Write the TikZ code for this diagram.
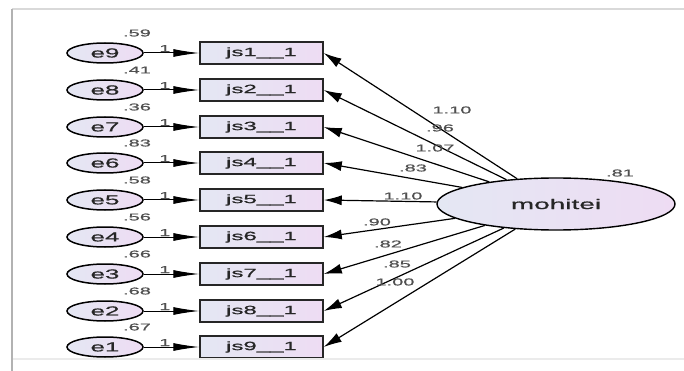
\documentclass[tikz,border=0pt]{standalone}
\usepackage{fontspec}
\usepackage{tikz}
\usetikzlibrary{arrows.meta,shapes.geometric}
\newfontfamily\amosfont[FakeStretch=2.0,FakeBold=0.8]{Liberation Sans}
\definecolor{fillleft}{HTML}{E4E7F3}
\definecolor{fillright}{HTML}{EEDCF3}
\definecolor{labelgray}{HTML}{505050}
\tikzset{
  errvar/.style={ellipse,draw=black,line width=1.5pt,minimum width=76pt,minimum height=20pt,inner sep=0pt,
    left color=fillleft,right color=fillright,text=black!85,font=\amosfont\fontsize{13}{14}\selectfont},
  itembox/.style={rectangle,draw=black!85,line width=1.5pt,minimum width=123pt,minimum height=22pt,inner sep=0pt,
    left color=fillleft,right color=fillright,text=black!85,font=\amosfont\fontsize{12}{13}\selectfont},
  latentvar/.style={ellipse,draw=black,line width=1.4pt,minimum width=238pt,minimum height=52pt,inner sep=0pt,
    left color=fillleft,right color=fillright,text=black!85,font=\amosfont\fontsize{14}{15}\selectfont},
  est/.style={text=labelgray,inner sep=0pt,font=\amosfont\fontsize{10}{11}\selectfont},
  errarrow/.style={-{Latex[length=26pt,width=8pt]},line width=1pt},
  loadarrow/.style={-{Latex[length=18pt,width=10pt]},line width=1.2pt}
}
\begin{document}
\begin{tikzpicture}[x=1pt,y=-1pt]
\useasboundingbox (0,0) rectangle (684,371);
\fill[white] (0,0) rectangle (684,371);
\begin{scope}
\clip (13,10) rectangle (684,358);
% error terms and items
\node[errvar] (e9) at (105,53) {e9};
\node[errvar] (e8) at (105,90) {e8};
\node[errvar] (e7) at (105,127) {e7};
\node[errvar] (e6) at (105,163) {e6};
\node[errvar] (e5) at (105,200) {e5};
\node[errvar] (e4) at (105,237) {e4};
\node[errvar] (e3) at (105,274) {e3};
\node[errvar] (e2) at (105,311) {e2};
\node[errvar] (e1) at (105,347) {e1};
\node[itembox] (js1) at (261.5,53) {js1\_\_1};
\node[itembox] (js2) at (261.5,90) {js2\_\_1};
\node[itembox] (js3) at (261.5,127) {js3\_\_1};
\node[itembox] (js4) at (261.5,163) {js4\_\_1};
\node[itembox] (js5) at (261.5,200) {js5\_\_1};
\node[itembox] (js6) at (261.5,237) {js6\_\_1};
\node[itembox] (js7) at (261.5,274) {js7\_\_1};
\node[itembox] (js8) at (261.5,311) {js8\_\_1};
\node[itembox] (js9) at (261.5,347) {js9\_\_1};
\draw[errarrow] (e9) -- (js1) node[est,pos=0.38,above=0.5pt] {1};
\draw[errarrow] (e8) -- (js2) node[est,pos=0.38,above=0.5pt] {1};
\draw[errarrow] (e7) -- (js3) node[est,pos=0.38,above=0.5pt] {1};
\draw[errarrow] (e6) -- (js4) node[est,pos=0.38,above=0.5pt] {1};
\draw[errarrow] (e5) -- (js5) node[est,pos=0.38,above=0.5pt] {1};
\draw[errarrow] (e4) -- (js6) node[est,pos=0.38,above=0.5pt] {1};
\draw[errarrow] (e3) -- (js7) node[est,pos=0.38,above=0.5pt] {1};
\draw[errarrow] (e2) -- (js8) node[est,pos=0.38,above=0.5pt] {1};
\draw[errarrow] (e1) -- (js9) node[est,pos=0.38,above=0.5pt] {1};
% variances
\node[est] (v9) at (137,33) {.59};
\node[est] (v8) at (137,70) {.41};
\node[est] (v7) at (137,107) {.36};
\node[est] (v6) at (137,143) {.83};
\node[est] (v5) at (137,180) {.58};
\node[est] (v4) at (137,217) {.56};
\node[est] (v3) at (137,254) {.66};
\node[est] (v2) at (137,291) {.68};
\node[est] (v1) at (137,327) {.67};
% latent factor and loadings
\node[latentvar] (mohitei) at (556,204) {mohitei};
\node[est] (vm) at (620,173) {.81};
\draw[loadarrow] (mohitei) -- (js1.east);
\draw[loadarrow] (mohitei) -- (js2.east);
\draw[loadarrow] (mohitei) -- (js3.east);
\draw[loadarrow] (mohitei) -- (js4.east);
\draw[loadarrow] (mohitei) -- (js5.east);
\draw[loadarrow] (mohitei) -- (js6.east);
\draw[loadarrow] (mohitei) -- (js7.east);
\draw[loadarrow] (mohitei) -- (js8.east);
\draw[loadarrow] (mohitei) -- (js9.east);
\node[est] (l1) at (452,110) {1.10};
\node[est] (l2) at (440,128) {.96};
\node[est] (l3) at (435,148) {1.07};
\node[est] (l4) at (413,168) {.83};
\node[est] (l5) at (403,196) {1.10};
\node[est] (l6) at (377,222) {.90};
\node[est] (l7) at (388,244) {.82};
\node[est] (l8) at (397,264) {.85};
\node[est] (l9) at (395,282) {1.00};
\end{scope}
% screenshot frame
\draw[black!15,line width=2pt] (12,9) -- (684,9);
\draw[black!30,line width=2pt] (12,9) -- (12,371);
\draw[black!8,line width=1.5pt] (13,359) -- (684,359);
\end{tikzpicture}
\end{document}
